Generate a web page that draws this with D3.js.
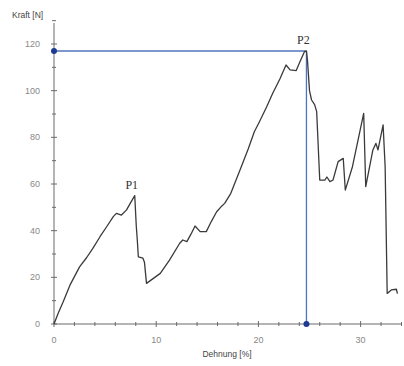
<!DOCTYPE html>
<html>
<head>
<meta charset="utf-8">
<script src="https://cdn.jsdelivr.net/npm/d3@7"></script>
<style>
  body { margin: 0; background: #fff; }
  svg { display: block; }
</style>
</head>
<body>
<div id="chart"></div>
<script>
// Dehnung [%] vs Kraft [N]
const strain = [0, 0.4, 0.9, 1.6, 2.5, 3.2, 3.8, 4.5, 5.2, 5.8, 6.1, 6.6, 7.1, 7.5, 7.9,
  8.05, 8.15, 8.25, 8.7, 8.85, 9.05, 10.4, 11.3, 12.3, 12.6, 13.0, 13.4, 13.8, 14.3, 14.9,
  15.4, 15.9, 16.4, 16.7, 17.3, 18.2, 19.0, 19.6, 20.1, 20.8, 21.4, 22.1, 22.7, 23.1,
  23.7, 24.0, 24.5, 24.7, 24.8, 25.0, 25.2, 25.5, 25.7, 26.0, 26.5, 26.7, 27.0, 27.3,
  27.8, 28.3, 28.5, 29.2, 30.3, 30.5, 31.2, 31.5, 31.7, 32.2, 32.4, 32.6, 33.0, 33.5, 33.6];
const force = [0, 4.5, 9.5, 17, 24.5, 28.5, 32.4, 37.4, 42, 46, 47.4, 46.7, 48.9, 52, 55,
  42, 36, 28.8, 28.2, 26.5, 17.4, 21.7, 27.4, 34.6, 36, 35.3, 38.5, 42, 39.6, 39.6,
  44, 48, 50.5, 51.7, 56, 66, 75, 82.4, 86.7, 93, 98.9, 105, 111, 108.9,
  108.6, 111.7, 116.7, 117, 113, 100, 96, 94, 91, 61.7, 61.7, 63, 61, 61.7,
  69.6, 71, 57.4, 67.4, 90.3, 58.9, 74.6, 77.4, 74.6, 85.3, 67.4, 13.1, 14.6, 14.9, 13];
const peaks = [
  {name: 'P1', x: 7.9, y: 55},
  {name: 'P2', x: 24.7, y: 117}
];
const xTicks = [0, 10, 20, 30];
const yTicks = [0, 20, 40, 60, 80, 100, 120];

const width = 404;
const height = 366;

const svg = d3.select('#chart').append('svg')
  .attr('width', width)
  .attr('height', height);

const x = d3.scaleLinear().domain([0, 34]).range([54, 401.5]);
const y = d3.scaleLinear().domain([0, 120]).range([324, 44]);

const axisColor = '#6a6a6a';

// x axis
const xAxis = svg.append('g').attr('transform', `translate(0,${y(0)})`);
xAxis.append('line')
  .attr('x1', x(0)).attr('x2', x(34))
  .attr('stroke', axisColor).attr('stroke-width', 1);
xAxis.selectAll('.minor')
  .data(d3.range(0, 35, 2))
  .join('line')
  .attr('x1', d => x(d)).attr('x2', d => x(d))
  .attr('y1', d => d % 10 === 0 ? -3 : -2)
  .attr('y2', d => d % 10 === 0 ? 3 : 2)
  .attr('stroke', axisColor);
xAxis.selectAll('text')
  .data(xTicks)
  .join('text')
  .attr('x', d => x(d))
  .attr('y', 19)
  .attr('text-anchor', 'middle')
  .attr('font-family', 'Liberation Sans, Arial, sans-serif')
  .attr('font-size', 9)
  .attr('fill', '#888')
  .text(d => d);

// y axis
const yAxis = svg.append('g').attr('transform', `translate(${x(0)},0)`);
yAxis.append('line')
  .attr('y1', y(0)).attr('y2', y(129))
  .attr('stroke', axisColor).attr('stroke-width', 1);
yAxis.selectAll('.minor')
  .data(d3.range(0, 131, 10))
  .join('line')
  .attr('y1', d => y(d)).attr('y2', d => y(d))
  .attr('x1', d => d % 20 === 0 ? -3 : -2)
  .attr('x2', d => d % 20 === 0 ? 3 : 2)
  .attr('stroke', axisColor);
yAxis.selectAll('text')
  .data(yTicks)
  .join('text')
  .attr('x', -14)
  .attr('y', d => y(d) + 3)
  .attr('text-anchor', 'end')
  .attr('font-family', 'Liberation Sans, Arial, sans-serif')
  .attr('font-size', 9)
  .attr('fill', '#888')
  .text(d => d);

// axis titles
svg.append('text')
  .attr('x', 12).attr('y', 18)
  .attr('font-family', 'Liberation Sans, Arial, sans-serif')
  .attr('font-size', 8.5)
  .attr('fill', '#444')
  .text('Kraft [N]');
svg.append('text')
  .attr('x', 227).attr('y', 357)
  .attr('text-anchor', 'middle')
  .attr('font-family', 'Liberation Sans, Arial, sans-serif')
  .attr('font-size', 8.5)
  .attr('fill', '#444')
  .text('Dehnung [%]');

// P2 reference lines
const p2 = peaks[1];
const blue = '#4f74bd';
svg.append('line')
  .attr('x1', x(0)).attr('x2', x(p2.x))
  .attr('y1', y(p2.y)).attr('y2', y(p2.y))
  .attr('stroke', blue).attr('stroke-width', 1.3);
svg.append('line')
  .attr('x1', x(p2.x)).attr('x2', x(p2.x))
  .attr('y1', y(p2.y)).attr('y2', y(0))
  .attr('stroke', blue).attr('stroke-width', 1.3);
svg.selectAll('.dot')
  .data([[0, p2.y], [p2.x, 0]])
  .join('circle')
  .attr('cx', d => x(d[0]))
  .attr('cy', d => y(d[1]))
  .attr('r', 3)
  .attr('fill', '#1f3a93');

// curve
const pts = strain.map((s, i) => [s, force[i]]);
const line = d3.line()
  .x(d => x(d[0]))
  .y(d => y(d[1]));
svg.append('path')
  .datum(pts)
  .attr('d', line)
  .attr('fill', 'none')
  .attr('stroke', '#3a3a3a')
  .attr('stroke-width', 1.3)
  .attr('stroke-linejoin', 'round');

// peak labels
svg.selectAll('.peak')
  .data(peaks)
  .join('text')
  .attr('x', d => x(d.x) - 3)
  .attr('y', d => y(d.y) - 7)
  .attr('text-anchor', 'middle')
  .attr('font-family', 'Liberation Serif, Times New Roman, serif')
  .attr('font-size', 12)
  .attr('fill', '#333')
  .text(d => d.name);
</script>
</body>
</html>
